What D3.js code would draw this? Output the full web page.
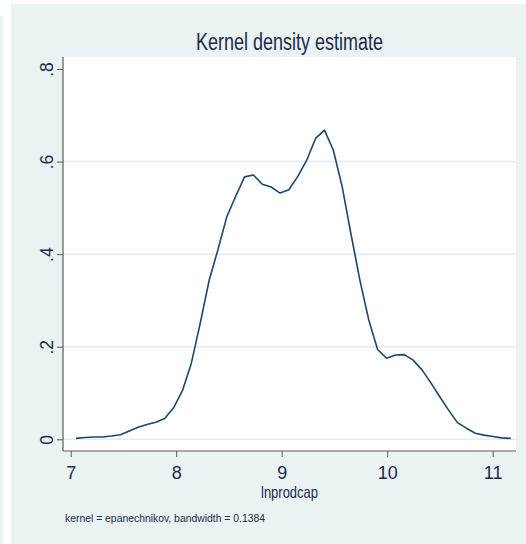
<!DOCTYPE html>
<html>
<head>
<meta charset="utf-8">
<script src="https://cdn.jsdelivr.net/npm/d3@7"></script>
<style>
  html, body { margin: 0; padding: 0; background: #ffffff; }
  svg { display: block; }
  text { font-family: "Liberation Sans Narrow", "Arial Narrow", "Liberation Sans", Arial, sans-serif; }
</style>
</head>
<body>
<svg id="chart" width="526" height="544"></svg>
<script>
// Evaluation points of the kernel density estimate (lnprodcap)
const gridX = [
  7.050, 7.134, 7.218, 7.302, 7.386, 7.471, 7.555, 7.639, 7.723, 7.807,
  7.891, 7.975, 8.059, 8.143, 8.227, 8.312, 8.396, 8.480, 8.564, 8.648,
  8.732, 8.816, 8.900, 8.984, 9.068, 9.153, 9.237, 9.321, 9.405, 9.489,
  9.573, 9.657, 9.741, 9.825, 9.909, 9.994, 10.078, 10.162, 10.246, 10.330,
  10.414, 10.498, 10.582, 10.666, 10.750, 10.835, 10.919, 11.003, 11.087, 11.171
];
// Estimated density at each evaluation point
const density = [
  0.002, 0.004, 0.005, 0.005, 0.007, 0.010, 0.018, 0.026, 0.032, 0.037,
  0.045, 0.068, 0.105, 0.164, 0.250, 0.343, 0.410, 0.481, 0.525, 0.567,
  0.571, 0.551, 0.545, 0.532, 0.539, 0.568, 0.603, 0.650, 0.668, 0.625,
  0.546, 0.443, 0.344, 0.258, 0.194, 0.175, 0.182, 0.183, 0.171, 0.150,
  0.122, 0.092, 0.063, 0.036, 0.024, 0.013, 0.009, 0.006, 0.003, 0.002
];
const xTicks = [7, 8, 9, 10, 11];
const xTickLabels = ["7", "8", "9", "10", "11"];
const yTicks = [0, 0.2, 0.4, 0.6, 0.8];
const yTickLabels = ["0", ".2", ".4", ".6", ".8"];
const yGridTicks = [0, 0.2, 0.4, 0.6];

const titleText = "Kernel density estimate";
const xTitleText = "lnprodcap";
const noteText = "kernel = epanechnikov, bandwidth = 0.1384";

const bg = "#eaf2f3";
const ink = "#1c2b4a";
const axisInk = "#5b5b5b";
const lineColor = "#1a476f";

const svg = d3.select("#chart");

// graph region background
svg.append("rect").attr("x", 0).attr("y", 16).attr("width", 3).attr("height", 528).attr("fill", bg);
svg.append("rect").attr("x", 11).attr("y", 4).attr("width", 515).attr("height", 540).attr("fill", bg);

// plot region
const plot = { left: 63, top: 57, right: 516, bottom: 451 };
svg.append("rect")
  .attr("x", plot.left).attr("y", plot.top)
  .attr("width", plot.right - plot.left).attr("height", plot.bottom - plot.top)
  .attr("fill", "#ffffff");

const x = d3.scaleLinear().domain([7, 11]).range([70.7, 492.7]);
const y = d3.scaleLinear().domain([0, 0.8]).range([439.3, 69]);

// horizontal grid lines
svg.append("g").selectAll("line").data(yGridTicks).join("line")
  .attr("x1", plot.left).attr("x2", plot.right)
  .attr("y1", d => y(d)).attr("y2", d => y(d))
  .attr("stroke", "#e3ecef").attr("stroke-width", 1.5);

// density curve
const line = d3.line().x((d, i) => x(gridX[i])).y(d => y(d));
svg.append("path")
  .datum(density)
  .attr("d", line)
  .attr("fill", "none")
  .attr("stroke", lineColor)
  .attr("stroke-width", 1.6)
  .attr("stroke-linejoin", "round");

// y axis
const yAxis = d3.axisLeft(y)
  .tickValues(yTicks)
  .tickFormat((d, i) => yTickLabels[i])
  .tickSize(6)
  .tickPadding(8);
const gy = svg.append("g").attr("transform", `translate(${plot.left},0)`).call(yAxis);
gy.select(".domain").remove();
gy.selectAll(".tick line").attr("stroke", axisInk).attr("stroke-width", 1);
gy.selectAll(".tick text")
  .attr("fill", ink)
  .attr("font-size", 17.5)
  .attr("x", null).attr("dy", null)
  .attr("text-anchor", "middle")
  .attr("transform", "translate(-10,0) rotate(-90)");

svg.append("line")
  .attr("x1", plot.left).attr("x2", plot.left)
  .attr("y1", plot.top).attr("y2", plot.bottom)
  .attr("stroke", axisInk).attr("stroke-width", 1.2);

// x axis
const xAxis = d3.axisBottom(x)
  .tickValues(xTicks)
  .tickFormat((d, i) => xTickLabels[i])
  .tickSize(6)
  .tickPadding(9);
const gx = svg.append("g").attr("transform", `translate(0,${plot.bottom})`).call(xAxis);
gx.select(".domain").remove();
gx.selectAll(".tick line").attr("stroke", axisInk).attr("stroke-width", 1);
gx.selectAll(".tick text").attr("fill", ink).attr("font-size", 18);

svg.append("line")
  .attr("x1", plot.left).attr("x2", plot.right)
  .attr("y1", plot.bottom).attr("y2", plot.bottom)
  .attr("stroke", axisInk).attr("stroke-width", 1.2);

// titles and note
svg.append("text")
  .attr("x", (plot.left + plot.right) / 2).attr("y", 50)
  .attr("text-anchor", "middle")
  .attr("font-size", 23)
  .attr("fill", ink)
  .attr("textLength", 187).attr("lengthAdjust", "spacingAndGlyphs")
  .text(titleText);

svg.append("text")
  .attr("x", (plot.left + plot.right) / 2).attr("y", 498)
  .attr("text-anchor", "middle")
  .attr("font-size", 16.5)
  .attr("fill", ink)
  .attr("textLength", 57).attr("lengthAdjust", "spacingAndGlyphs")
  .text(xTitleText);

svg.append("text")
  .attr("x", 65).attr("y", 522)
  .attr("font-size", 11.5)
  .attr("fill", ink)
  .attr("textLength", 200).attr("lengthAdjust", "spacingAndGlyphs")
  .text(noteText);
</script>
</body>
</html>
